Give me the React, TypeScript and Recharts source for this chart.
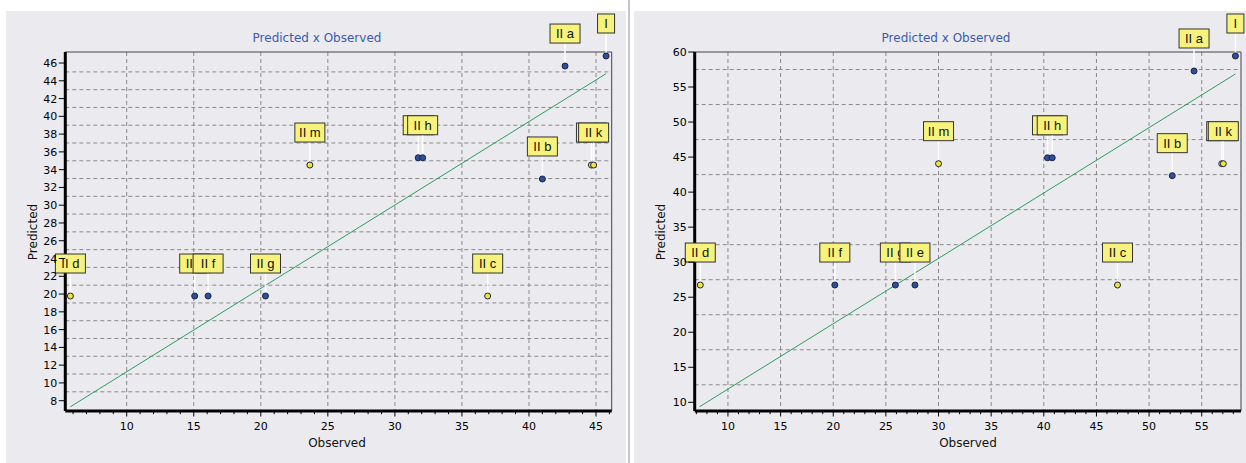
import {
  CartesianGrid,
  ReferenceLine,
  Scatter,
  ScatterChart,
  XAxis,
  YAxis,
} from "recharts";

const FONT = "'DejaVu Sans', sans-serif";
const LABEL_FONT = "'Liberation Sans', Arial, sans-serif";
const PANEL_BG = "#ebebef";
const BLUE = "#2d4f9e";
const YELLOW = "#f2e634";

// labels whose box sits behind a neighbour's box, so their text is never seen
const HIDDEN_TEXT = ["II i", "II j"];

// ---- left panel data ----
const LEFT_NAMES = ["I", "II a", "II m", "II i", "II h", "II b", "II j", "II k", "II d", "II e", "II f", "II g", "II c"];
const LEFT_OBSERVED = [45.75, 42.69, 23.66, 31.74, 32.07, 41.0, 44.66, 44.82, 5.8, 15.07, 16.07, 20.35, 36.92];
const LEFT_PREDICTED = [46.79, 45.66, 34.52, 35.34, 35.34, 32.95, 34.52, 34.52, 19.78, 19.78, 19.78, 19.78, 19.78];
const LEFT_COLORS = [BLUE, BLUE, YELLOW, BLUE, BLUE, BLUE, YELLOW, YELLOW, YELLOW, BLUE, BLUE, BLUE, YELLOW];
const LEFT_FIT = [
  { x: 5.8, y: 7.32 },
  { x: 45.75, y: 44.8 },
];
const LEFT_X_MAJOR = [10, 15, 20, 25, 30, 35, 40, 45];
const LEFT_Y_TICKS = [8, 10, 12, 14, 16, 18, 20, 22, 24, 26, 28, 30, 32, 34, 36, 38, 40, 42, 44, 46];
const LEFT_Y_GRID = [9, 11, 13, 15, 17, 19, 21, 23, 25, 27, 29, 31, 33, 35, 37, 39, 41, 43, 45];

// ---- right panel data ----
const RIGHT_NAMES = ["I", "II a", "II m", "II i", "II h", "II b", "II j", "II k", "II d", "II f", "II g", "II e", "II c"];
const RIGHT_OBSERVED = [58.2, 54.27, 30.0, 40.35, 40.8, 52.2, 56.9, 57.05, 7.37, 20.15, 25.9, 27.76, 47.0];
const RIGHT_PREDICTED = [59.43, 57.29, 44.06, 44.9, 44.9, 42.35, 44.06, 44.06, 26.74, 26.74, 26.74, 26.74, 26.74];
const RIGHT_COLORS = [BLUE, BLUE, YELLOW, BLUE, BLUE, BLUE, YELLOW, YELLOW, YELLOW, BLUE, BLUE, BLUE, YELLOW];
const RIGHT_FIT = [
  { x: 7.3, y: 9.37 },
  { x: 58.2, y: 56.86 },
];
const RIGHT_X_MAJOR = [10, 15, 20, 25, 30, 35, 40, 45, 50, 55];
const RIGHT_Y_TICKS = [10, 15, 20, 25, 30, 35, 40, 45, 50, 55, 60];
const RIGHT_Y_GRID = [12.5, 17.5, 22.5, 27.5, 32.5, 37.5, 42.5, 47.5, 52.5, 57.5];

interface PanelCfg {
  left: number;
  width: number;
  height: number;
  margin: { top: number; right: number; bottom: number; left: number };
  xDomain: [number, number];
  yDomain: [number, number];
  names: string[];
  observed: number[];
  predicted: number[];
  colors: string[];
  fit: { x: number; y: number }[];
  xMajor: number[];
  yTicks: number[];
  yGrid: number[];
  titleX: number;
  xLabelX: number;
  yLabelX: number;
}

const LEFT: PanelCfg = {
  left: 6,
  width: 620,
  height: 452,
  margin: { top: 41, right: 14.3, bottom: 12, left: 19.3 },
  xDomain: [5.42, 46.17],
  yDomain: [6.84, 47.24],
  names: LEFT_NAMES,
  observed: LEFT_OBSERVED,
  predicted: LEFT_PREDICTED,
  colors: LEFT_COLORS,
  fit: LEFT_FIT,
  xMajor: LEFT_X_MAJOR,
  yTicks: LEFT_Y_TICKS,
  yGrid: LEFT_Y_GRID,
  titleX: 311,
  xLabelX: 331,
  yLabelX: 26.9,
};

const RIGHT: PanelCfg = {
  left: 634,
  width: 612,
  height: 452,
  margin: { top: 41, right: 5, bottom: 12, left: 20.7 },
  xDomain: [6.84, 58.73],
  yDomain: [8.76, 60],
  names: RIGHT_NAMES,
  observed: RIGHT_OBSERVED,
  predicted: RIGHT_PREDICTED,
  colors: RIGHT_COLORS,
  fit: RIGHT_FIT,
  xMajor: RIGHT_X_MAJOR,
  yTicks: RIGHT_Y_TICKS,
  yGrid: RIGHT_Y_GRID,
  titleX: 312,
  xLabelX: 334,
  yLabelX: 27.4,
};

function range(a: number, b: number) {
  const out: number[] = [];
  for (let v = Math.ceil(a); v <= Math.floor(b); v++) out.push(v);
  return out;
}

function renderPoint(props: any) {
  const { cx, cy, payload } = props;
  if (cx == null || cy == null) return <g />;
  const w = payload.name.length === 1 ? 17 : 30;
  const h = 19;
  const bottom = cy - 23;
  const showText = !HIDDEN_TEXT.includes(payload.name);
  return (
    <g>
      <line x1={cx} x2={cx} y1={bottom} y2={cy - 3} stroke="#ffffff" strokeWidth={1.5} />
      <rect x={cx - w / 2} y={bottom - h} width={w} height={h} fill="#f7f27c" stroke="#333" strokeWidth={1} />
      {showText && (
        <text x={cx} y={bottom - 5} textAnchor="middle" fontSize={13} fontFamily={LABEL_FONT} fill="#111">
          {payload.name}
        </text>
      )}
      <circle cx={cx} cy={cy} r={3} fill={payload.color} stroke="#1c2340" strokeWidth={1} />
    </g>
  );
}

function Panel({ cfg }: { cfg: PanelCfg }) {
  const data = cfg.names.map((name, i) => ({
    name,
    x: cfg.observed[i],
    y: cfg.predicted[i],
    color: cfg.colors[i],
  }));
  const xTicks = range(cfg.xDomain[0], cfg.xDomain[1]);
  const majors = new Set(cfg.xMajor);

  const xTick = (p: any) => {
    const major = majors.has(p.payload.value);
    return (
      <g>
        <line x1={p.x} x2={p.x} y1={p.y} y2={p.y + (major ? 5.5 : 3.2)} stroke="#000" />
        {major && (
          <text x={p.x} y={p.y + 19} textAnchor="middle" fontSize={11} fontFamily={FONT} fill="#000">
            {p.payload.value}
          </text>
        )}
      </g>
    );
  };
  const yTick = (p: any) => (
    <g>
      <line x1={p.x - 6.5} x2={p.x} y1={p.y} y2={p.y} stroke="#000" />
      <text x={p.x - 8} y={p.y + 4} textAnchor="end" fontSize={11} fontFamily={FONT} fill="#000">
        {p.payload.value}
      </text>
    </g>
  );

  return (
    <div
      style={{
        position: "absolute",
        left: cfg.left,
        top: 11,
        width: cfg.width,
        height: cfg.height,
        background: PANEL_BG,
        fontFamily: FONT,
      }}
    >
      <div
        style={{
          position: "absolute",
          left: cfg.titleX - 100,
          top: 20,
          width: 200,
          lineHeight: "14px",
          fontSize: 12,
          textAlign: "center",
          color: "#3a5bb0",
          whiteSpace: "nowrap",
        }}
      >
        Predicted x Observed
      </div>
      <ScatterChart width={cfg.width} height={cfg.height} margin={cfg.margin}>
        <CartesianGrid
          verticalValues={cfg.xMajor}
          horizontalValues={cfg.yGrid}
          stroke="#8a8a8a"
          strokeDasharray="4 3"
        />
        <XAxis
          type="number"
          dataKey="x"
          domain={cfg.xDomain}
          ticks={xTicks}
          interval={0}
          tick={xTick}
          tickLine={false}
          tickSize={0}
          tickMargin={0}
          height={40}
          axisLine={{ stroke: "#000", strokeWidth: 3 }}
        />
        <YAxis
          type="number"
          dataKey="y"
          domain={cfg.yDomain}
          ticks={cfg.yTicks}
          interval={0}
          tick={yTick}
          tickLine={false}
          tickSize={0}
          tickMargin={0}
          width={40}
          axisLine={{ stroke: "#000", strokeWidth: 3 }}
        />
        <ReferenceLine y={cfg.yDomain[1]} stroke="#444" />
        <ReferenceLine x={cfg.xDomain[1]} stroke="#444" />
        <ReferenceLine segment={cfg.fit} stroke="#2e9b5f" strokeWidth={1} />
        <Scatter data={data} shape={renderPoint} isAnimationActive={false} />
      </ScatterChart>
      <div
        style={{
          position: "absolute",
          left: cfg.xLabelX - 60,
          top: 425,
          width: 120,
          lineHeight: "14px",
          fontSize: 12,
          textAlign: "center",
          color: "#111",
        }}
      >
        Observed
      </div>
      <div
        style={{
          position: "absolute",
          left: cfg.yLabelX - 50,
          top: 220.5 - 7,
          width: 100,
          height: 14,
          lineHeight: "14px",
          fontSize: 12,
          textAlign: "center",
          color: "#111",
          transform: "rotate(-90deg)",
        }}
      >
        Predicted
      </div>
    </div>
  );
}

export default function App() {
  return (
    <div
      style={{
        position: "fixed",
        left: 0,
        top: 0,
        width: 1246,
        height: 463,
        background: "#ffffff",
        overflow: "hidden",
      }}
    >
      <Panel cfg={LEFT} />
      <div style={{ position: "absolute", left: 628, top: 0, width: 2, height: 463, background: "#c4c4c8" }} />
      <Panel cfg={RIGHT} />
    </div>
  );
}
